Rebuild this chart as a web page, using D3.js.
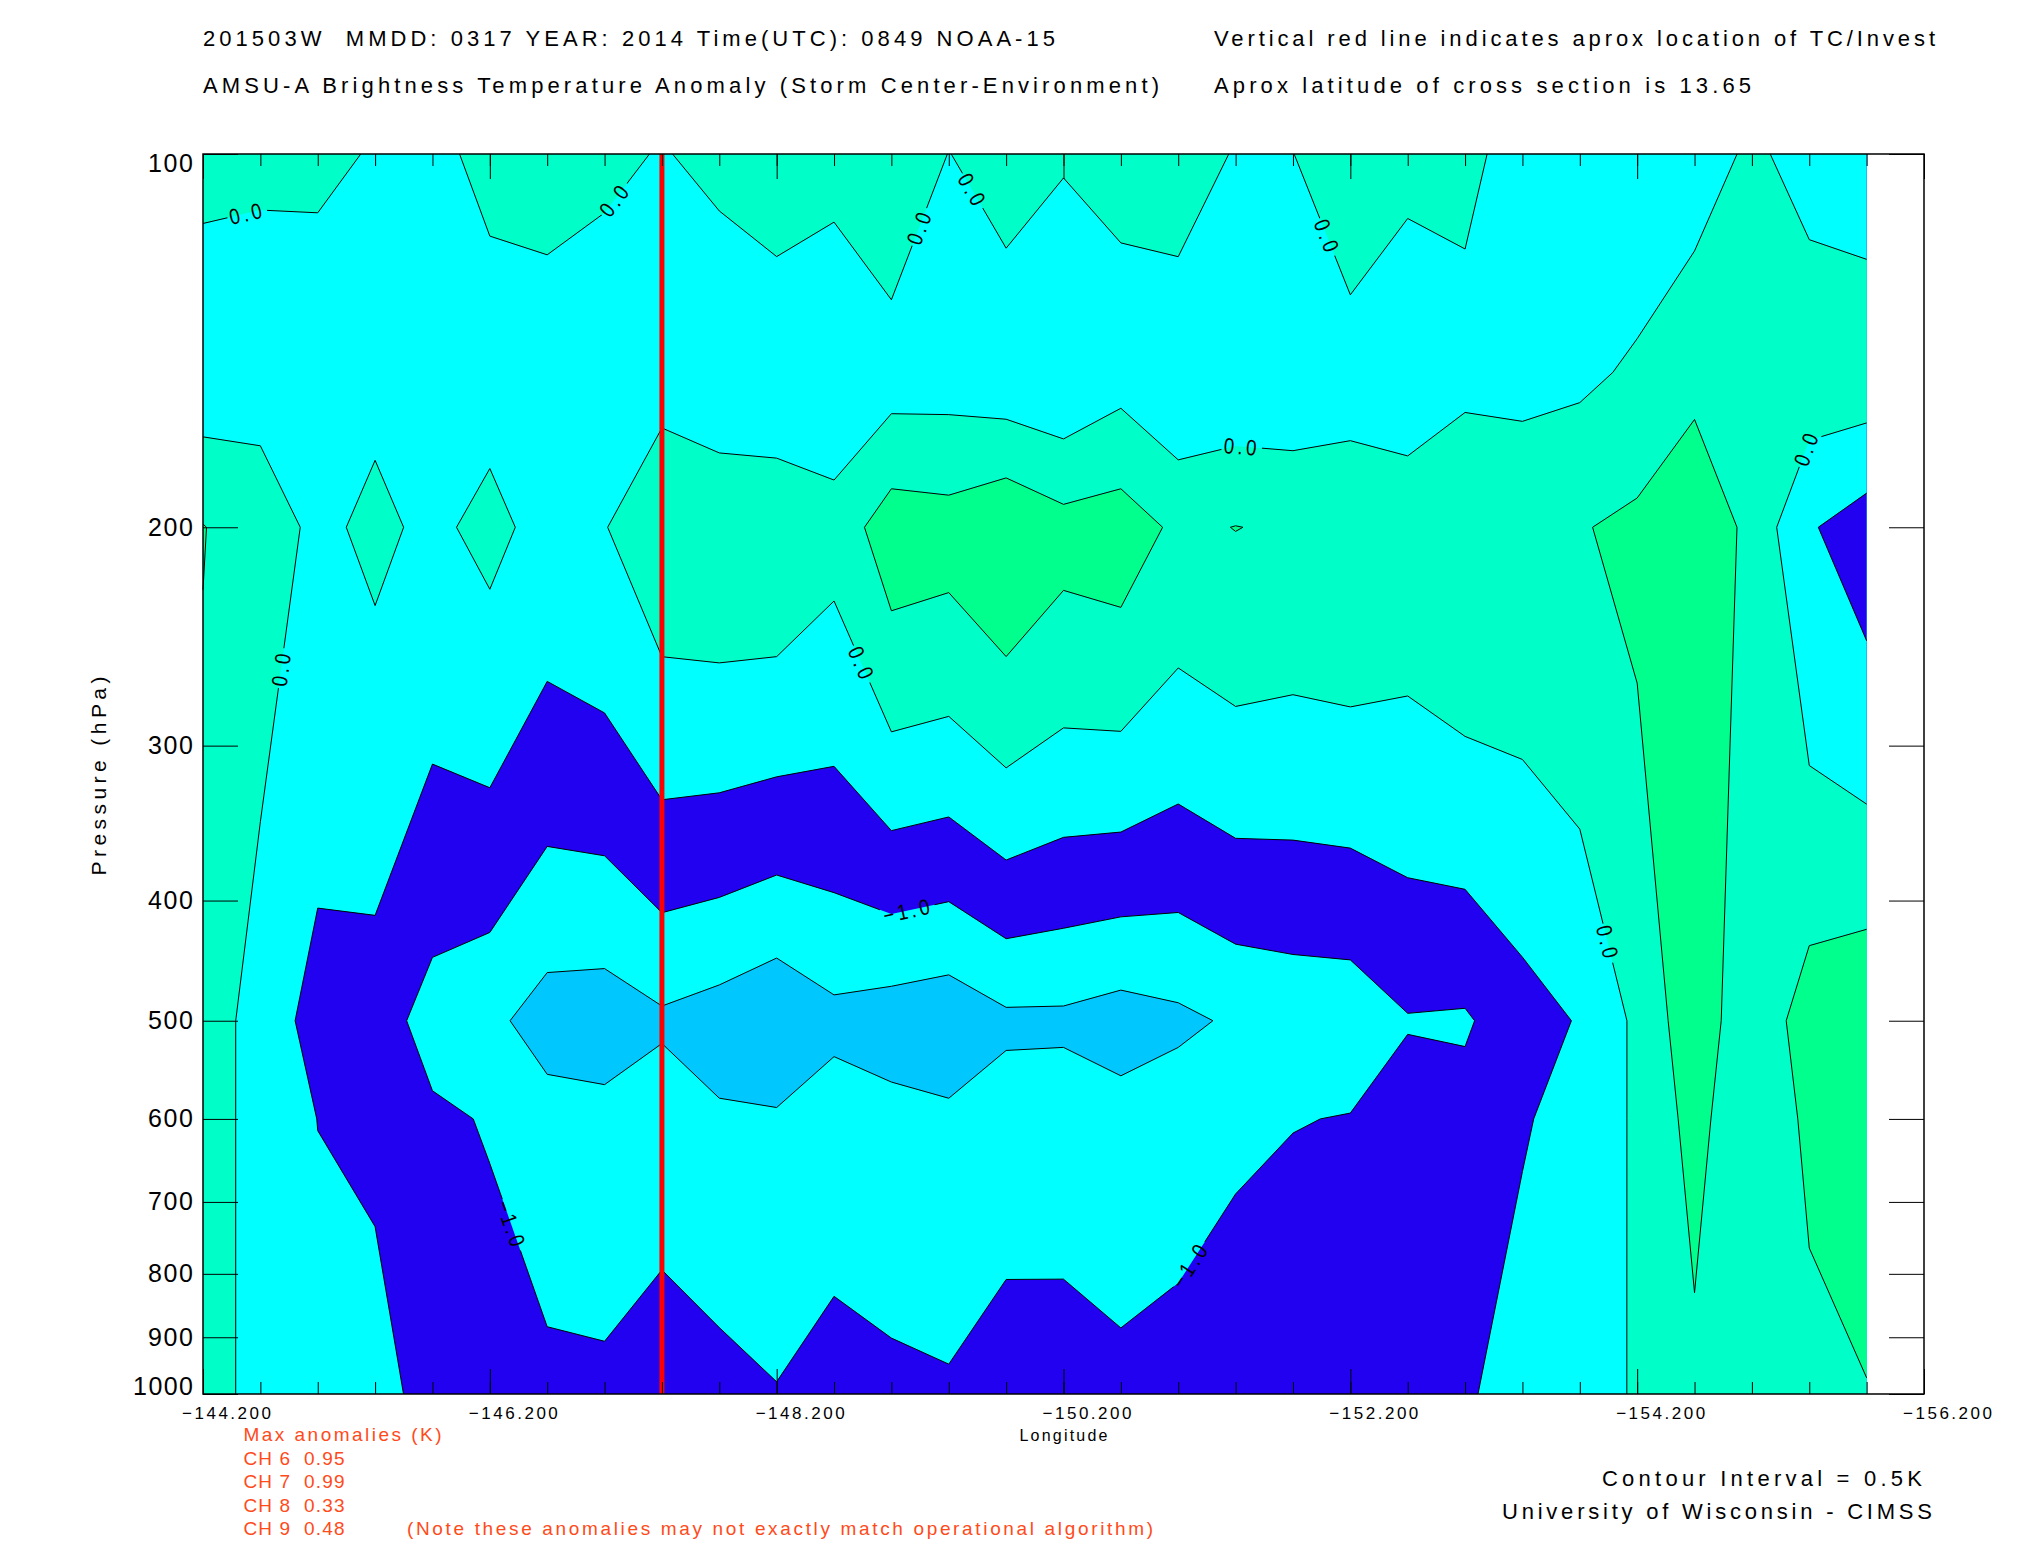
<!DOCTYPE html>
<html>
<head>
<meta charset="utf-8">
<title>AMSU-A Brightness Temperature Anomaly</title>
<script src="https://cdn.jsdelivr.net/npm/d3@7"></script>
<style>
  html, body { margin: 0; padding: 0; background: #fff; }
  svg text { font-family: "Liberation Sans", Arial, sans-serif; }
</style>
</head>
<body>
<svg id="chart" width="2025" height="1550"></svg>
<script>
// scan positions along the cross section (longitude)
const lons = [-144.2, -144.6, -145.0, -145.4, -145.8, -146.2, -146.6, -147.0, -147.4, -147.8,
              -148.2, -148.6, -149.0, -149.4, -149.8, -150.2, -150.6, -151.0, -151.4, -151.8,
              -152.2, -152.6, -153.0, -153.4, -153.8, -154.2, -154.6, -155.0, -155.4, -155.8];
// grid rows (hPa)
const levels = [100, 150, 200, 500, 600, 1000];

// brightness temperature anomaly (K), one array per level
const anom100  = [0.122, 0.043, 0.075, -0.025, -0.076, 0.085, 0.14, 0.09, -0.025, 0.11,
                  0.332, 0.13, 0.406, -0.01, 0.224, 0.045, 0.112, 0.326, -0.044, -0.01,
                  0.48, 0.116, 0.093, -0.149, -0.25, -0.324, -0.215, 0.075, -0.16, -0.245];
const anom150  = [-0.321, -0.153, -0.25, -0.099, -0.2, -0.173, -0.2, -0.3, -0.17, -0.383,
                  -0.459, -0.352, -0.247, -0.234, -0.362, -0.45, -0.2, -0.45, -0.4, -0.382,
                  -0.323, -0.34, -0.148, -0.158, -0.098, 0.072, 0.33, 0.25, 0.304, 0.322];
const anom200  = [0.52, 0.196, -0.086, 0.087, -0.088, 0.122, -0.153, -0.02, 0.351, 0.408,
                  0.427, 0.178, 0.785, 0.721, 0.965, 0.69, 0.767, 0.4, 0.51, 0.431,
                  0.473, 0.335, 0.49, 0.395, 0.467, 0.615, 0.95, 0.342, -0.45, -0.768];
const anom500  = [0.276, -0.208, -0.69, -0.747, -1.207, -1.378, -1.724, -1.769, -1.587, -1.729,
                  -1.932, -1.642, -1.763, -1.85, -1.605, -1.603, -1.73, -1.61, -1.428, -1.342,
                  -1.319, -1.031, -1.059, -0.704, -0.465, 0.101, 0.84, 0.109, 0.763, 0.946];
const anom600  = [0.276, -0.208, -0.505, -0.6, -0.909, -1.037, -1.296, -1.342, -1.184, -1.433,
                  -1.438, -1.23, -1.327, -1.398, -1.235, -1.197, -1.303, -1.177, -1.1, -1.02,
                  -0.978, -0.789, -0.819, -0.51, -0.459, 0.1, 0.66, 0.1, 0.6, 0.8];
const anom1000 = [0.276, -0.208, -0.354, -0.299, -0.705, -0.752, -0.877, -0.896, -0.805, -0.823,
                  -0.974, -0.837, -0.893, -0.938, -0.784, -0.818, -0.877, -0.846, -0.654, -0.52,
                  -0.75, -0.75, -0.516, -0.445, -0.2, 0.044, 0.38, 0.2, 0.354, 0.476];

const contourLevels = [-1.5, -1.0, -0.5, 0.0, 0.5];
const pressureTicks = [100, 200, 300, 400, 500, 600, 700, 800, 900, 1000];
const lonLabels = [-144.2, -146.2, -148.2, -150.2, -152.2, -154.2, -156.2];
const stormLon = -147.4;
const crossLat = 13.65;
const channels = [6, 7, 8, 9];
const maxAnomaly = [0.95, 0.99, 0.33, 0.48];

// where the contour labels sit
const labelLevel = [0, 0, 0, 0, 0, 0, 0, 0, 0, -1, -1, -1, 0];
const labelLon   = [-144.49, -147.02, -149.18, -149.6, -152.06, -151.45, -155.36, -144.69, -148.82, -149.1, -146.4, -151.07, -154.03];
const labelP     = [109.5, 107.7, 114.3, 106.5, 116.4, 168.8, 172.3, 259.3, 257, 400, 727, 785, 432];

const plot = {left: 203, right: 1924, top: 154, bottom: 1394};
const bandBelow = '#00c8ff';
const bandFill = ['#00ffff', '#2200f0', '#00ffff', '#00ffc8', '#00ff8c'];

const svg = d3.select('#chart');
svg.append('rect').attr('width', 2025).attr('height', 1550).attr('fill', '#fff');
const defs = svg.append('defs');

const x = d3.scaleLinear().domain([-144.2, -156.2]).range([plot.left, plot.right]);
const y = d3.scaleLog().domain([100, 1000]).range([plot.top, plot.bottom]);

const nx = lons.length, ny = levels.length;
const grid = [anom100, anom150, anom200, anom500, anom600, anom1000].flat();

const colIdx = u => Math.max(0, Math.min(nx - 1, u - 0.5));
const rowIdx = v => Math.max(0, Math.min(ny - 1, v - 0.5));

// grid coords from d3.contours -> pixels (pressure interpolated linearly between rows)
function toPixel(pt) {
    const c = colIdx(pt[0]);
    const i = Math.min(Math.floor(c), nx - 2), tc = c - i;
    const lon = lons[i] + tc * (lons[i + 1] - lons[i]);
    const r = rowIdx(pt[1]);
    const j = Math.min(Math.floor(r), ny - 2), tr = r - j;
    const p = levels[j] + tr * (levels[j + 1] - levels[j]);
    return [x(lon), y(p)];
}

const bands = d3.contours().size([nx, ny]).thresholds(contourLevels)(grid);

const field = svg.append('g').attr('class', 'field');
field.append('rect')
    .attr('x', x(lons[0]))
    .attr('y', y(levels[0]))
    .attr('width', x(lons[nx - 1]) - x(lons[0]))
    .attr('height', y(levels[ny - 1]) - y(levels[0]))
    .attr('fill', bandBelow);

const ringPath = ring => 'M' + ring.map(pt => toPixel(pt).map(v => v.toFixed(2)).join(',')).join('L') + 'Z';

field.selectAll('path.band')
    .data(bands)
    .enter().append('path')
    .attr('class', 'band')
    .attr('fill-rule', 'evenodd')
    .attr('fill', (d, i) => bandFill[i])
    .attr('d', d => d.coordinates.map(poly => poly.map(ringPath).join('')).join(''));

// contour lines: same rings, minus the pieces running along the grid border
function onBorder(a, b) {
    const ca = colIdx(a[0]), cb = colIdx(b[0]), ra = rowIdx(a[1]), rb = rowIdx(b[1]);
    return (ca === cb && (ca === 0 || ca === nx - 1)) || (ra === rb && (ra === 0 || ra === ny - 1));
}
function isolines(band) {
    const lines = [];
    band.coordinates.forEach(poly => poly.forEach(ring => {
        let cur = [];
        for (let k = 0; k < ring.length - 1; k++) {
            const a = ring[k], b = ring[k + 1];
            if (onBorder(a, b)) {
                if (cur.length > 1) lines.push(cur);
                cur = [];
                continue;
            }
            if (!cur.length) cur.push(toPixel(a));
            cur.push(toPixel(b));
        }
        if (cur.length > 1) lines.push(cur);
    }));
    return lines;
}
const lineSets = bands.map(isolines);
const lineGen = d3.line();

// gaps in the lines where labels go
const gapMask = defs.append('mask').attr('id', 'labelGaps')
    .attr('maskUnits', 'userSpaceOnUse')
    .attr('x', 0).attr('y', 0).attr('width', 2025).attr('height', 1550);
gapMask.append('rect').attr('width', 2025).attr('height', 1550).attr('fill', '#fff');

const isoG = field.append('g').attr('class', 'isolines').attr('mask', 'url(#labelGaps)');
isoG.selectAll('g.iso')
    .data(lineSets)
    .enter().append('g')
    .attr('class', 'iso')
    .selectAll('path')
    .data(d => d)
    .enter().append('path')
    .attr('d', lineGen)
    .attr('fill', 'none')
    .attr('stroke', '#000')
    .attr('stroke-width', 1);

// contour labels, turned along the nearest piece of the line
function nearestOn(lines, px, py) {
    let best = null;
    lines.forEach(line => {
        for (let k = 0; k < line.length - 1; k++) {
            const [x1, y1] = line[k], [x2, y2] = line[k + 1];
            const dx = x2 - x1, dy = y2 - y1, L2 = dx * dx + dy * dy || 1;
            let t = ((px - x1) * dx + (py - y1) * dy) / L2;
            t = Math.max(0, Math.min(1, t));
            const qx = x1 + t * dx, qy = y1 + t * dy;
            const d2 = (qx - px) ** 2 + (qy - py) ** 2;
            if (!best || d2 < best.d2) best = {d2, x: qx, y: qy, ang: Math.atan2(dy, dx) * 180 / Math.PI};
        }
    });
    return best;
}
const fmtLab = d3.format('.1f');
labelLevel.forEach((lv, i) => {
    const lines = lineSets[contourLevels.indexOf(lv)];
    const hit = nearestOn(lines, x(labelLon[i]), y(labelP[i]));
    if (!hit) return;
    let a = hit.ang;
    while (a > 90) a -= 180;
    while (a <= -90) a += 180;
    const pos = `translate(${hit.x},${hit.y}) rotate(${a})`;
    const t = field.append('text')
        .attr('transform', pos + ' scale(0.85,1)')
        .attr('text-anchor', 'middle')
        .attr('dy', '0.36em')
        .attr('font-size', 22)
        .attr('letter-spacing', 4)
        .attr('fill', '#000')
        .text(fmtLab(lv));
    const w = t.node().getComputedTextLength() * 0.85;
    gapMask.append('rect')
        .attr('transform', pos)
        .attr('x', -w / 2 - 2).attr('y', -10)
        .attr('width', w + 4).attr('height', 20)
        .attr('fill', '#000');
});

// storm position
svg.append('line')
    .attr('x1', x(stormLon)).attr('x2', x(stormLon))
    .attr('y1', plot.top).attr('y2', plot.bottom)
    .attr('stroke', '#ff0000')
    .attr('stroke-width', 5);

// axes
const minorLon = d3.range(31).map(i => -144.2 - 0.4 * i);
function lonAxis(gen, size, ty) {
    const g = svg.append('g').attr('transform', `translate(0,${ty})`)
        .call(gen(x).tickValues(size > 20 ? lonLabels : minorLon).tickSize(-size).tickSizeOuter(0).tickFormat(''));
    g.select('.domain').remove();
    return g;
}
lonAxis(d3.axisBottom, 12, plot.bottom);
lonAxis(d3.axisBottom, 25, plot.bottom);
lonAxis(d3.axisTop, 12, plot.top);
lonAxis(d3.axisTop, 25, plot.top);

const xLab = svg.append('g').attr('transform', `translate(0,${plot.bottom})`)
    .call(d3.axisBottom(x).tickValues(lonLabels).tickSize(0).tickFormat(d3.format('.3f')));
xLab.select('.domain').remove();
xLab.attr('font-size', 17);
xLab.selectAll('text')
    .attr('x', 23).attr('y', 25).attr('dy', '0')
    .attr('fill', '#000')
    .attr('textLength', 89).attr('lengthAdjust', 'spacing');

const yLeft = svg.append('g').attr('transform', `translate(${plot.left},0)`)
    .call(d3.axisLeft(y).tickValues(pressureTicks).tickSize(-35).tickSizeOuter(0).tickPadding(10).tickFormat(d3.format('d')));
yLeft.select('.domain').remove();
yLeft.attr('font-size', 25);
yLeft.selectAll('text')
    .attr('fill', '#000')
    .attr('y', d => d === 100 ? 9 : (d === 1000 ? -8 : 0))
    .attr('textLength', d => String(d).length * 15).attr('lengthAdjust', 'spacing');

const yRight = svg.append('g').attr('transform', `translate(${plot.right},0)`)
    .call(d3.axisRight(y).tickValues(pressureTicks).tickSize(-35).tickSizeOuter(0).tickFormat(''));
yRight.select('.domain').remove();

svg.append('rect')
    .attr('x', plot.left).attr('y', plot.top)
    .attr('width', plot.right - plot.left).attr('height', plot.bottom - plot.top)
    .attr('fill', 'none').attr('stroke', '#000').attr('stroke-width', 1.5);

// axis titles
svg.append('text')
    .attr('transform', `translate(99,776) rotate(-90)`)
    .attr('text-anchor', 'middle').attr('dy', '0.35em')
    .attr('font-size', 21)
    .attr('textLength', 199).attr('lengthAdjust', 'spacing')
    .text('Pressure (hPa)');
svg.append('text')
    .attr('x', (plot.left + plot.right) / 2).attr('y', 1441)
    .attr('text-anchor', 'middle')
    .attr('font-size', 16)
    .attr('textLength', 88).attr('lengthAdjust', 'spacing')
    .text('Longitude');

// header
function headText(tx, ty, len, str, anchor) {
    return svg.append('text')
        .attr('x', tx).attr('y', ty)
        .attr('text-anchor', anchor || 'start')
        .attr('font-size', 22)
        .style('white-space', 'pre')
        .attr('textLength', len).attr('lengthAdjust', 'spacing')
        .text(str);
}
headText(203, 46, 852, '201503W  MMDD: 0317 YEAR: 2014 Time(UTC): 0849 NOAA-15');
headText(1214, 46, 721, 'Vertical red line indicates aprox location of TC/Invest');
headText(203, 93, 956, 'AMSU-A Brightness Temperature Anomaly (Storm Center-Environment)');
headText(1214, 93, 537, 'Aprox latitude of cross section is ' + crossLat.toFixed(2));

// footer
const notes = svg.append('g').attr('fill', '#ff4a1a').attr('font-size', 19);
notes.append('text').attr('x', 243.5).attr('y', 1441)
    .attr('textLength', 198).attr('lengthAdjust', 'spacing')
    .text('Max anomalies (K)');
notes.selectAll('text.ch')
    .data(channels)
    .enter().append('text')
    .attr('class', 'ch')
    .attr('x', 243.5)
    .attr('y', (d, i) => 1465 + i * 23.3)
    .style('white-space', 'pre')
    .attr('textLength', 101).attr('lengthAdjust', 'spacing')
    .text((d, i) => `CH ${d}  ${maxAnomaly[i].toFixed(2)}`);
notes.append('text').attr('x', 407).attr('y', 1535)
    .attr('textLength', 746).attr('lengthAdjust', 'spacing')
    .text('(Note these anomalies may not exactly match operational algorithm)');

headText(1922, 1486, 320, 'Contour Interval = 0.5K', 'end');
headText(1932, 1519, 430, 'University of Wisconsin - CIMSS', 'end');
</script>
</body>
</html>
